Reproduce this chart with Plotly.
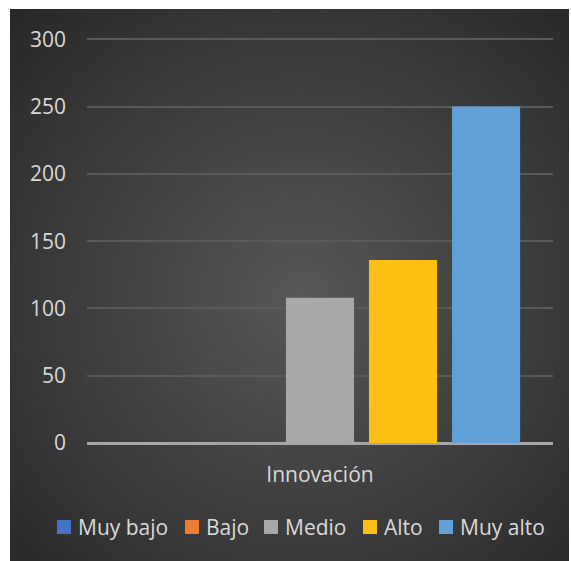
import base64, struct, zlib
import numpy as np
import plotly.graph_objects as go

# ---- data ----
category = ["Innovación"]
series_names = ["Muy bajo", "Bajo", "Medio", "Alto", "Muy alto"]
muy_bajo = [0]
bajo = [0]
medio = [108]
alto = [136]
muy_alto = [250]
series_values = [muy_bajo, bajo, medio, alto, muy_alto]
series_colors = ["#4472c4", "#ed7d31", "#a8a8a8", "#fbc012", "#62a0da"]
y_ticks = [0, 50, 100, 150, 200, 250, 300]

# ---- radial gradient background image (chart area) ----
W, H = 559, 552
yy, xx = np.mgrid[0:H, 0:W]
cx, cy = 290, 290
d = np.sqrt((xx - cx) ** 2 + (yy - cy) ** 2)
t = np.clip(d / np.sqrt(cx ** 2 + cy ** 2), 0, 1)
val = (0x58 - t * (0x58 - 0x28)).astype(np.uint8)
rgb = np.stack([val, val, val], axis=-1)
raw = b"".join(b"\x00" + rgb[r].tobytes() for r in range(H))

def chunk(tag, data):
    c = struct.pack(">I", len(data)) + tag + data
    return c + struct.pack(">I", zlib.crc32(tag + data) & 0xFFFFFFFF)

png = b"\x89PNG\r\n\x1a\n" + chunk(b"IHDR", struct.pack(">IIBBBBB", W, H, 8, 2, 0, 0, 0)) \
    + chunk(b"IDAT", zlib.compress(raw, 9)) + chunk(b"IEND", b"")
bg_uri = "data:image/png;base64," + base64.b64encode(png).decode()

# ---- figure ----
FIG_W, FIG_H = 571, 561
ML, MR, MT, MB = 87, 18, 38, 118
PW = FIG_W - ML - MR
PH = FIG_H - MT - MB

def px_x(px):
    return (px - ML) / PW

def px_y(py):
    return (FIG_H - MB - py) / PH

fig = go.Figure()
for name, vals, col in zip(series_names, series_values, series_colors):
    fig.add_trace(go.Bar(x=category, y=vals, name=name, marker=dict(color=col, line=dict(width=0))))

font = "Open Sans, Lato, sans-serif"
txt = "#d9d9d9"
FS = 21

# custom legend (squares + text), positioned like the reference
legend_square_left = [57, 185, 264, 363, 439]
shapes = []
annotations = []
for name, col, sx in zip(series_names, series_colors, legend_square_left):
    shapes.append(dict(type="rect", xref="paper", yref="paper",
                       x0=px_x(sx), x1=px_x(sx + 14), y0=px_y(534), y1=px_y(520),
                       fillcolor=col, line=dict(width=0), layer="above"))
    annotations.append(dict(text=name, xref="paper", yref="paper", x=px_x(sx + 19), y=px_y(527),
                            xanchor="left", yanchor="middle", showarrow=False,
                            font=dict(family=font, size=FS, color=txt)))

fig.update_layout(
    width=FIG_W, height=FIG_H,
    margin=dict(l=ML, r=MR, t=MT, b=MB, autoexpand=False),
    paper_bgcolor="white",
    plot_bgcolor="rgba(0,0,0,0)",
    barmode="group",
    bargap=0.109,
    bargroupgap=0.18,
    font=dict(family=font, size=FS, color=txt),
    showlegend=False,
    shapes=shapes,
    annotations=annotations,
    images=[dict(source=bg_uri, xref="paper", yref="paper",
                 x=px_x(10), y=px_y(9),
                 sizex=W / PW, sizey=H / PH, sizing="stretch",
                 xanchor="left", yanchor="top", layer="below")],
)
fig.update_yaxes(range=[0, 301], tickvals=y_ticks, showgrid=True, gridcolor="#5a5a5a", gridwidth=1.5,
                 zeroline=True, zerolinecolor="#a6a6a6", zerolinewidth=2.5,
                 ticks="", ticklabelstandoff=20, tickfont=dict(family=font, size=FS, color=txt),
                 showline=False, fixedrange=True)
fig.update_xaxes(showgrid=False, showline=False, ticks="", ticklabelstandoff=17,
                 tickfont=dict(family=font, size=FS, color=txt))

fig.write_html("out.html")
